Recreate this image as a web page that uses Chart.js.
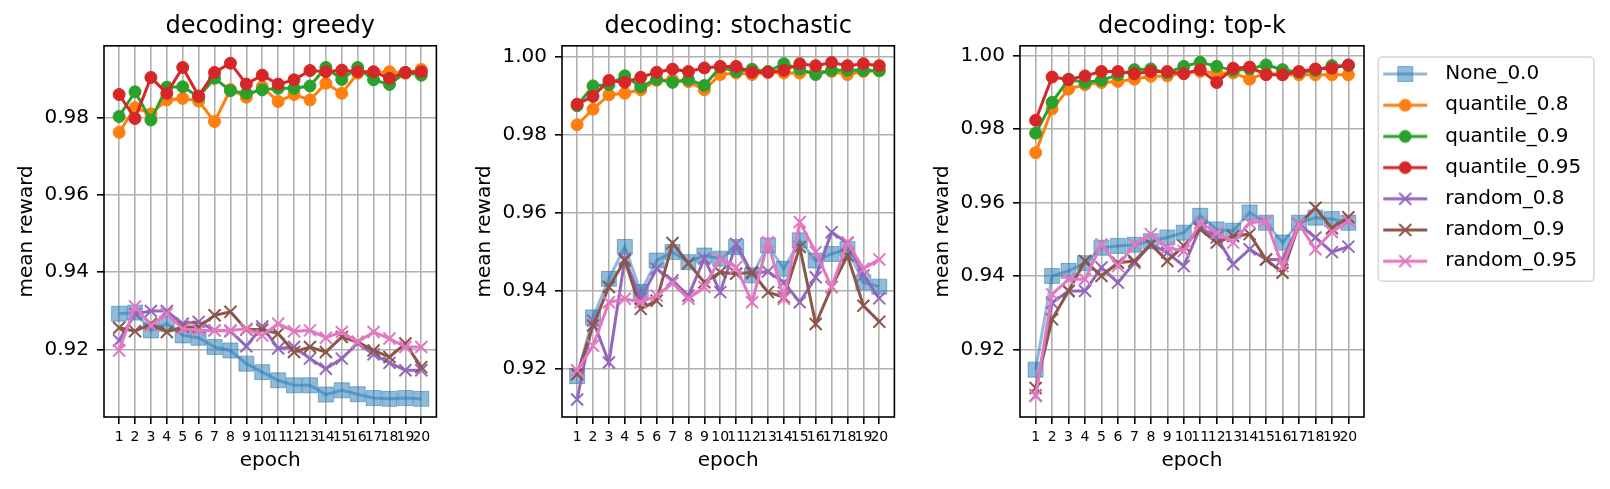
<!DOCTYPE html>
<html>
<head>
<meta charset="utf-8">
<script src="https://cdn.jsdelivr.net/npm/chart.js@4.4.0/dist/chart.umd.min.js"></script>
<style>
  html, body { margin: 0; padding: 0; background: #fff; }
  body { width: 1610px; height: 489px; position: relative; overflow: hidden; }
  .panel { position: absolute; top: 0; height: 489px; }
</style>
</head>
<body>
<div class="panel" style="left:0;width:448px"><canvas id="greedyChart"></canvas></div>
<div class="panel" style="left:458px;width:448px"><canvas id="stochasticChart"></canvas></div>
<div class="panel" style="left:916px;width:694px"><canvas id="topkChart"></canvas></div>
<script>
// Data
const epochs = [1, 2, 3, 4, 5, 6, 7, 8, 9, 10, 11, 12, 13, 14, 15, 16, 17, 18, 19, 20];
const seriesNames = ['None_0.0', 'quantile_0.8', 'quantile_0.9', 'quantile_0.95', 'random_0.8', 'random_0.9', 'random_0.95'];

const yTicksGreedy = [0.92, 0.94, 0.96, 0.98];
const yTicksOther = [0.92, 0.94, 0.96, 0.98, 1.0];

// decoding: greedy
const greedyNone = [0.9292, 0.9295, 0.9249, 0.9266, 0.9236, 0.9230, 0.9206, 0.9197, 0.9163, 0.9141, 0.9120, 0.9107, 0.9107, 0.9083, 0.9094, 0.9084, 0.9074, 0.9072, 0.9074, 0.9072];
const greedyQ08 = [0.9761, 0.9825, 0.9809, 0.9845, 0.9849, 0.9842, 0.9789, 0.9872, 0.9852, 0.9879, 0.9841, 0.9859, 0.9845, 0.9888, 0.9862, 0.9914, 0.9916, 0.9918, 0.9914, 0.9924];
const greedyQ09 = [0.9802, 0.9866, 0.9793, 0.9878, 0.9879, 0.9853, 0.9901, 0.9869, 0.9862, 0.9871, 0.9875, 0.9875, 0.9881, 0.9929, 0.9898, 0.9929, 0.9897, 0.9885, 0.9916, 0.9909];
const greedyQ095 = [0.9859, 0.9797, 0.9903, 0.9862, 0.9929, 0.9855, 0.9916, 0.9940, 0.9886, 0.9909, 0.9886, 0.9897, 0.9921, 0.9918, 0.9922, 0.9918, 0.9918, 0.9901, 0.9916, 0.9918];
const greedyR08 = [0.9223, 0.9292, 0.9299, 0.9299, 0.9266, 0.9271, 0.9249, 0.9247, 0.9208, 0.9259, 0.9202, 0.9206, 0.9176, 0.9150, 0.9176, 0.9216, 0.9187, 0.9165, 0.9146, 0.9146];
const greedyR09 = [0.9256, 0.9247, 0.9266, 0.9245, 0.9258, 0.9258, 0.9288, 0.9297, 0.9251, 0.9251, 0.9241, 0.9193, 0.9206, 0.9193, 0.9232, 0.9219, 0.9197, 0.9180, 0.9215, 0.9154];
const greedyR095 = [0.9197, 0.9311, 0.9262, 0.9292, 0.9253, 0.9249, 0.9249, 0.9249, 0.9253, 0.9236, 0.9266, 0.9247, 0.9249, 0.9230, 0.9245, 0.9219, 0.9245, 0.9228, 0.9206, 0.9206];

// decoding: stochastic
const stochNone = [0.9180, 0.9331, 0.9430, 0.9512, 0.9396, 0.9477, 0.9499, 0.9473, 0.9490, 0.9482, 0.9512, 0.9439, 0.9516, 0.9456, 0.9529, 0.9477, 0.9494, 0.9507, 0.9421, 0.9410];
const stochQ08 = [0.9826, 0.9866, 0.9903, 0.9907, 0.9916, 0.9940, 0.9942, 0.9937, 0.9916, 0.9955, 0.9959, 0.9955, 0.9961, 0.9959, 0.9959, 0.9963, 0.9963, 0.9955, 0.9963, 0.9965];
const stochQ09 = [0.9875, 0.9926, 0.9929, 0.9952, 0.9924, 0.9943, 0.9935, 0.9942, 0.9927, 0.9974, 0.9963, 0.9969, 0.9963, 0.9983, 0.9969, 0.9955, 0.9966, 0.9966, 0.9966, 0.9965];
const stochQ095 = [0.9879, 0.9899, 0.9940, 0.9935, 0.9948, 0.9961, 0.9969, 0.9963, 0.9972, 0.9976, 0.9976, 0.9961, 0.9961, 0.9966, 0.9983, 0.9978, 0.9986, 0.9978, 0.9983, 0.9978];
const stochR08 = [0.9120, 0.9323, 0.9215, 0.9482, 0.9379, 0.9456, 0.9426, 0.9387, 0.9482, 0.9396, 0.9520, 0.9444, 0.9449, 0.9421, 0.9370, 0.9434, 0.9550, 0.9522, 0.9439, 0.9380];
const stochR09 = [0.9185, 0.9310, 0.9409, 0.9477, 0.9353, 0.9374, 0.9522, 0.9470, 0.9421, 0.9447, 0.9443, 0.9447, 0.9396, 0.9383, 0.9512, 0.9314, 0.9409, 0.9490, 0.9361, 0.9320];
const stochR095 = [0.9195, 0.9258, 0.9370, 0.9379, 0.9370, 0.9387, 0.9419, 0.9379, 0.9409, 0.9482, 0.9460, 0.9370, 0.9524, 0.9379, 0.9576, 0.9499, 0.9409, 0.9524, 0.9456, 0.9480];

// decoding: top-k
const topkNone = [0.9145, 0.9400, 0.9414, 0.9435, 0.9477, 0.9482, 0.9485, 0.9495, 0.9505, 0.9518, 0.9564, 0.9527, 0.9523, 0.9573, 0.9545, 0.9491, 0.9545, 0.9559, 0.9555, 0.9545];
const topkQ08 = [0.9736, 0.9855, 0.9909, 0.9921, 0.9927, 0.9930, 0.9936, 0.9944, 0.9945, 0.9953, 0.9957, 0.9953, 0.9953, 0.9936, 0.9953, 0.9948, 0.9948, 0.9948, 0.9948, 0.9948];
const topkQ09 = [0.9789, 0.9873, 0.9936, 0.9927, 0.9933, 0.9948, 0.9962, 0.9964, 0.9953, 0.9971, 0.9982, 0.9971, 0.9960, 0.9964, 0.9975, 0.9962, 0.9955, 0.9960, 0.9973, 0.9973];
const topkQ095 = [0.9824, 0.9942, 0.9935, 0.9945, 0.9957, 0.9957, 0.9951, 0.9957, 0.9957, 0.9951, 0.9962, 0.9927, 0.9966, 0.9969, 0.9948, 0.9948, 0.9957, 0.9964, 0.9966, 0.9975];
const topkR08 = [0.9075, 0.9327, 0.9359, 0.9359, 0.9423, 0.9382, 0.9436, 0.9486, 0.9464, 0.9427, 0.9532, 0.9505, 0.9432, 0.9473, 0.9445, 0.9445, 0.9541, 0.9505, 0.9465, 0.9480];
const topkR09 = [0.9095, 0.9282, 0.9359, 0.9441, 0.9400, 0.9436, 0.9441, 0.9486, 0.9441, 0.9482, 0.9527, 0.9491, 0.9509, 0.9514, 0.9445, 0.9409, 0.9541, 0.9586, 0.9530, 0.9560];
const topkR095 = [0.9073, 0.9350, 0.9391, 0.9391, 0.9486, 0.9427, 0.9486, 0.9514, 0.9477, 0.9468, 0.9545, 0.9518, 0.9491, 0.9545, 0.9550, 0.9427, 0.9541, 0.9473, 0.9520, 0.9550];

// Look of each series (matplotlib tab10 colours)
const seriesStyles = [
  { color: 'rgba(31,119,180,0.5)', fill: 'rgba(31,119,180,0.5)', marker: 'rect', radius: 10.6, markerWidth: 1 },
  { color: '#ff7f0e', fill: '#ff7f0e', marker: 'circle', radius: 6, markerWidth: 1 },
  { color: '#2ca02c', fill: '#2ca02c', marker: 'circle', radius: 6, markerWidth: 1 },
  { color: '#d62728', fill: '#d62728', marker: 'circle', radius: 6, markerWidth: 1 },
  { color: '#9467bd', fill: '#9467bd', marker: 'crossRot', radius: 8.5, markerWidth: 2 },
  { color: '#8c564b', fill: '#8c564b', marker: 'crossRot', radius: 8.5, markerWidth: 2 },
  { color: '#e377c2', fill: '#e377c2', marker: 'crossRot', radius: 8.5, markerWidth: 2 },
];

Chart.defaults.font.family = "'DejaVu Sans', sans-serif";
Chart.defaults.color = '#000';

function makeDatasets(values) {
  return seriesNames.map((name, i) => ({
    label: name,
    data: epochs.map((e, j) => ({ x: e, y: values[i][j] })),
    borderColor: seriesStyles[i].color,
    backgroundColor: seriesStyles[i].fill,
    pointBackgroundColor: seriesStyles[i].fill,
    pointBorderColor: seriesStyles[i].color,
    pointStyle: seriesStyles[i].marker,
    pointRadius: seriesStyles[i].radius,
    pointBorderWidth: seriesStyles[i].markerWidth,
    borderWidth: 3,
    tension: 0,
    fill: false,
    order: seriesNames.length - i,
  }));
}

// Small line+marker glyphs for the legend, like matplotlib handles
const legendGlyphs = seriesStyles.map((s) => {
  const c = document.createElement('canvas');
  c.width = 60;
  c.height = 24;
  const g = c.getContext('2d');
  g.strokeStyle = s.color;
  g.lineWidth = 3;
  g.beginPath();
  g.moveTo(8, 12);
  g.lineTo(52, 12);
  g.stroke();
  g.fillStyle = s.fill;
  g.strokeStyle = s.color;
  g.lineWidth = s.markerWidth;
  Chart.helpers.drawPoint(g, { pointStyle: s.marker, radius: s.radius, borderWidth: s.markerWidth, rotation: 0 }, 30, 12);
  return c;
});

// Black box around the plotting area
const axesFrame = {
  id: 'axesFrame',
  afterDatasetsDraw(chart) {
    const { ctx, chartArea: a } = chart;
    ctx.save();
    ctx.strokeStyle = '#000';
    ctx.lineWidth = 1.6;
    ctx.strokeRect(a.left, a.top, a.right - a.left, a.bottom - a.top);
    ctx.restore();
  },
};

// Legend width fix and rounded frame
const legendBox = {
  id: 'legendBox',
  beforeInit(chart) {
    if (!chart.legend) return;
    const fit = chart.legend.fit;
    chart.legend.fit = function () {
      fit.call(this);
      this.width = 246;
    };
  },
  beforeDraw(chart) {
    const lg = chart.legend;
    if (!lg || !lg.options.display || !lg.legendHitBoxes || !lg.legendHitBoxes.length) return;
    const boxes = lg.legendHitBoxes;
    const last = boxes[boxes.length - 1];
    const x0 = lg.left + 14.3;
    const x1 = lg.left + 230;
    const y0 = boxes[0].top - 7;
    const y1 = last.top + last.height + 10;
    const ctx = chart.ctx;
    ctx.save();
    ctx.fillStyle = 'rgba(255,255,255,0.8)';
    ctx.strokeStyle = '#d6d6d6';
    ctx.lineWidth = 1.5;
    ctx.beginPath();
    ctx.roundRect(x0, y0, x1 - x0, y1 - y0, 4);
    ctx.fill();
    ctx.stroke();
    ctx.restore();
  },
};

function makeOptions(title, yMin, yMax, yTicks, withLegend) {
  const grid = {
    color: '#b0b0b0',
    lineWidth: 1.6,
    drawTicks: true,
    tickLength: 7,
    tickColor: '#000',
    tickWidth: 1.6,
  };
  return {
    responsive: true,
    maintainAspectRatio: false,
    animation: false,
    layout: { padding: 0 },
    plugins: {
      title: {
        display: true,
        text: title,
        fullSize: false,
        color: '#000',
        font: { size: 24, weight: 'normal' },
        padding: { top: 12.6, bottom: 4.4 },
      },
      legend: withLegend
        ? {
            display: true,
            position: 'right',
            align: 'start',
            title: { display: true, text: ' ', font: { size: 20 }, padding: { top: 28.8, bottom: 0 } },
            labels: {
              usePointStyle: true,
              pointStyleWidth: 60,
              boxHeight: 20,
              padding: 11.2,
              color: '#000',
              font: { size: 20 },
              generateLabels: (chart) =>
                chart.data.datasets.map((ds, i) => ({
                  text: ds.label,
                  pointStyle: legendGlyphs[i],
                  fillStyle: seriesStyles[i].fill,
                  strokeStyle: seriesStyles[i].color,
                  lineWidth: 0,
                  hidden: false,
                  datasetIndex: i,
                })),
            },
          }
        : { display: false },
      tooltip: { enabled: false },
    },
    scales: {
      x: {
        type: 'linear',
        min: 0.05,
        max: 20.95,
        afterBuildTicks: (s) => {
          s.ticks = epochs.map((v) => ({ value: v }));
        },
        afterFit: (s) => {
          s.height = 72;
        },
        ticks: {
          autoSkip: false,
          maxRotation: 0,
          minRotation: 0,
          padding: 5,
          font: { size: 14 },
          callback: (v) => String(v),
        },
        grid: grid,
        border: { display: false },
        title: { display: true, text: 'epoch', font: { size: 20 }, padding: { top: 0, bottom: 16 } },
      },
      y: {
        min: yMin,
        max: yMax,
        afterBuildTicks: (s) => {
          s.ticks = yTicks.map((v) => ({ value: v }));
        },
        afterFit: (s) => {
          s.width = 104;
        },
        ticks: {
          padding: 8,
          font: { size: 20 },
          callback: (v) => v.toFixed(2),
        },
        grid: grid,
        border: { display: false },
        title: { display: true, text: 'mean reward', font: { size: 20 }, padding: { top: 15, bottom: 0 } },
      },
    },
  };
}

new Chart(document.getElementById('greedyChart'), {
  type: 'line',
  data: { datasets: makeDatasets([greedyNone, greedyQ08, greedyQ09, greedyQ095, greedyR08, greedyR09, greedyR095]) },
  options: makeOptions('decoding: greedy', 0.9025, 0.9985, yTicksGreedy, false),
  plugins: [axesFrame],
});

new Chart(document.getElementById('stochasticChart'), {
  type: 'line',
  data: { datasets: makeDatasets([stochNone, stochQ08, stochQ09, stochQ095, stochR08, stochR09, stochR095]) },
  options: makeOptions('decoding: stochastic', 0.9075, 1.0029, yTicksOther, false),
  plugins: [axesFrame],
});

new Chart(document.getElementById('topkChart'), {
  type: 'line',
  data: { datasets: makeDatasets([topkNone, topkQ08, topkQ09, topkQ095, topkR08, topkR09, topkR095]) },
  options: makeOptions('decoding: top-k', 0.9016, 1.0027, yTicksOther, true),
  plugins: [axesFrame, legendBox],
});
</script>
</body>
</html>
